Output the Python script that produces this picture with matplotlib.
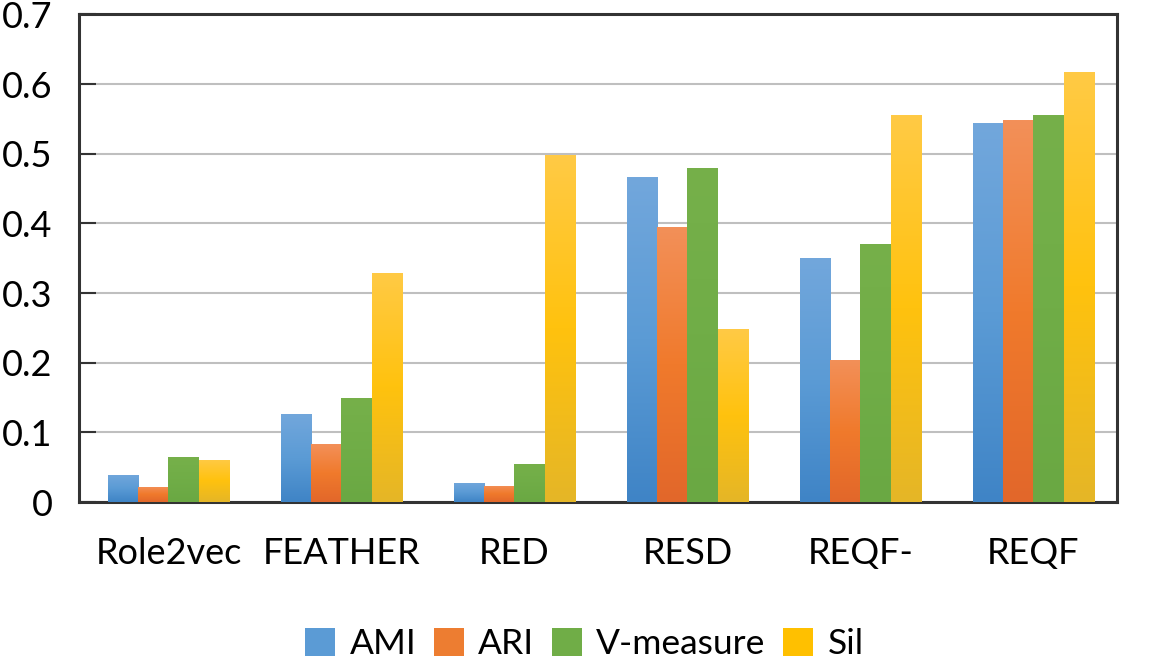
import numpy as np
import matplotlib.pyplot as plt
from matplotlib.colors import LinearSegmentedColormap
from matplotlib.patches import Patch

methods = ["Role2vec", "FEATHER", "RED", "RESD", "REQF-", "REQF"]
ami = [0.039, 0.126, 0.028, 0.466, 0.350, 0.544]
ari = [0.022, 0.083, 0.023, 0.395, 0.204, 0.548]
vmeasure = [0.064, 0.150, 0.055, 0.480, 0.371, 0.555]
sil = [0.061, 0.329, 0.498, 0.248, 0.555, 0.618]

series = [("AMI", ami), ("ARI", ari), ("V-measure", vmeasure), ("Sil", sil)]
# gradient stops top -> bottom
grads = {
    "AMI": ["#72A7DC", "#5B9BD5", "#3F84C6"],
    "ARI": ["#F39059", "#F07A2C", "#E2672A"],
    "V-measure": ["#76B04A", "#70AD47", "#6AA843"],
    "Sil": ["#FFCA45", "#FFC20E", "#E5B627"],
}
legend_col = {"AMI": "#5B9BD5", "ARI": "#ED7D31", "V-measure": "#70AD47", "Sil": "#FFC000"}

plt.rcParams["font.family"] = ["Lato", "DejaVu Sans"]

fig = plt.figure(figsize=(11.55, 6.61), dpi=100)
ax = fig.add_axes([0.0684, 0.2405, 0.8987, 0.7376])

x = np.arange(len(methods))
w = 0.175
for i, (name, vals) in enumerate(series):
    offs = (i - 1.5) * w
    bars = ax.bar(x + offs, vals, width=w, color=legend_col[name], zorder=3, linewidth=0)
    cmap = LinearSegmentedColormap.from_list(name, grads[name][::-1])
    grad = np.linspace(0, 1, 256).reshape(-1, 1)
    for b in bars:
        x0, y0 = b.get_x(), b.get_y()
        im = ax.imshow(grad, cmap=cmap, origin="lower", aspect="auto",
                       extent=[x0, x0 + b.get_width(), y0, y0 + b.get_height()], zorder=4)
        im.set_clip_path(b)

ax.set_xlim(-0.517, 5.483)
ax.set_ylim(0, 0.7)
ax.set_yticks(np.arange(0, 0.71, 0.1))
ax.set_yticklabels(["0", "0.1", "0.2", "0.3", "0.4", "0.5", "0.6", "0.7"])
ax.set_xticks(x)
ax.set_xticklabels(methods)
ax.tick_params(axis="y", direction="in", length=12, width=1.5, color="#333333",
               labelsize=26, pad=19)
ax.tick_params(axis="x", length=0, labelsize=26, pad=25)
ax.yaxis.grid(True, color="#BFBFBF", linewidth=1.5, zorder=0)
ax.set_axisbelow(True)
for s in ax.spines.values():
    s.set_color("#333333")
    s.set_linewidth(2.2)

handles = [Patch(facecolor=legend_col[n], label=n) for n, _ in series]
fig.legend(handles=handles, loc="center", bbox_to_anchor=(0.506, 0.026), ncol=4,
           frameon=False, fontsize=25.5, handlelength=0.85, handleheight=0.85,
           handletextpad=0.4, columnspacing=0.5)

fig.savefig("out.png", dpi=100)
